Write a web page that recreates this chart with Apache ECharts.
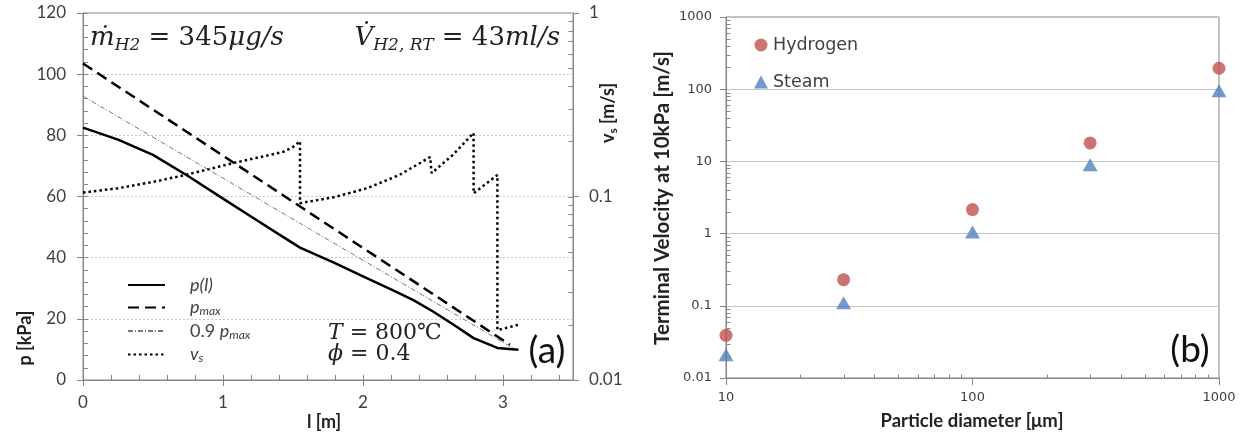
<!DOCTYPE html>
<html>
<head>
<meta charset="utf-8">
<title>Pressure and terminal velocity</title>
<script src="https://cdn.jsdelivr.net/npm/echarts@6.0.0/dist/echarts.min.js"></script>
<style>
  html, body { margin: 0; padding: 0; background: #fff; }
  #main { width: 1246px; height: 436px; }
</style>
</head>
<body>
<div id="main"></div>
<script>
// (a) pressure along the bed [l in m, p in kPa]
const pressure = [[0, 82.5], [0.25, 78.6], [0.5, 73.6], [0.75, 66.7], [1.0, 59.3], [1.25, 52.0], [1.4, 47.6], [1.55, 43.3],
  [1.8, 38.2], [2.0, 33.9], [2.2, 29.6], [2.36, 26.1], [2.5, 22.4], [2.65, 18.0], [2.79, 13.7], [2.96, 10.5], [3.11, 9.9]];
const pressureMax = [[0, 103.5], [3.05, 11.5]];
const pressure90 = [[0, 92.8], [3.08, 10.2]];
// (a) gas velocity v_s [m/s], log axis
const velocity = [[0, 0.105], [0.25, 0.111], [0.5, 0.12], [0.73, 0.131], [0.9, 0.141], [1.07, 0.152], [1.25, 0.163],
  [1.43, 0.175], [1.5, 0.186], [1.55, 0.2],
  [1.55, 0.092], [1.79, 0.099], [2.03, 0.111], [2.26, 0.131], [2.48, 0.164],
  [2.49, 0.134], [2.64, 0.168], [2.79, 0.222],
  [2.79, 0.104], [2.96, 0.131],
  [2.96, 0.0187], [3.11, 0.02]];

// (b) terminal velocity at 10 kPa
const diameter = [10, 30, 100, 300, 1000];
const hydrogen = [0.039, 0.23, 2.15, 18, 195];
const steam = [0.021, 0.11, 1.05, 9, 95];

const axisColor = '#868686';
const labelColor = '#404040';
const textColor = '#222';

// minor ticks of the log axes (2..9 of every decade)
function logMinor(from, to) {
  const out = [];
  for (let d = from; d < to; d *= 10) {
    for (let k = 2; k <= 9; k++) out.push(+(k * d).toPrecision(3));
  }
  return out;
}
const aRightMinor = logMinor(0.01, 1).concat([0.1]);
const bXMinor = logMinor(10, 1000);
const bYMinor = logMinor(0.01, 1000);

function logLabel(v) {
  return String(+(+v).toPrecision(3));
}

function tickSeries(xi, yi, data, dx, dy) {
  return {
    type: 'custom', xAxisIndex: xi, yAxisIndex: yi, silent: true, clip: false, z: 5,
    data: data,
    renderItem: function (params, api) {
      const p = api.coord([api.value(0), api.value(1)]);
      const y = Math.round(p[1]) + 0.5, x = Math.round(p[0]) + 0.5;
      return {
        type: 'line',
        shape: { x1: x, y1: y, x2: x + dx, y2: y + dy },
        style: { stroke: axisColor, lineWidth: 1 }
      };
    }
  };
}

const legendRich = {
  'p(l)': '{i|p(l)}',
  'p_max': '{i|p}{s|max}',
  '0.9 p_max': '{n|0.9 }{i|p}{s|max}',
  'v_s': '{i|v}{s|s}'
};

const chart = echarts.init(document.getElementById('main'));

chart.setOption({
  animation: false,
  backgroundColor: '#fff',
  grid: [
    { left: 83, top: 13, width: 490, height: 367, show: true, borderColor: axisColor, borderWidth: 1 },
    { left: 726, top: 17, width: 493, height: 361, show: true, borderColor: axisColor, borderWidth: 1 }
  ],
  legend: [
    {
      data: ['p(l)', 'p_max', '0.9 p_max', 'v_s'],
      orient: 'vertical', left: 122, top: 271,
      itemWidth: 37, itemHeight: 14, itemGap: 4.5,
      itemStyle: { opacity: 0 },
      formatter: function (name) { return legendRich[name]; },
      textStyle: {
        color: labelColor, padding: [0, 0, 0, 20],
        rich: {
          i: { fontFamily: 'Lato', fontStyle: 'italic', fontSize: 18, lineHeight: 20, color: labelColor },
          n: { fontFamily: 'Lato', fontSize: 18, lineHeight: 20, color: labelColor },
          s: { fontFamily: 'Lato', fontStyle: 'italic', fontSize: 12, lineHeight: 20, verticalAlign: 'bottom', color: labelColor }
        }
      }
    },
    {
      data: ['Hydrogen', 'Steam'],
      orient: 'vertical', left: 749, top: 30,
      itemWidth: 14, itemHeight: 13, itemGap: 17,
      textStyle: { color: labelColor, fontFamily: 'DejaVu Sans', fontSize: 17.5, lineHeight: 20 }
    }
  ],
  xAxis: [
    {
      gridIndex: 0, type: 'value', min: 0, max: 3.5, interval: 1, position: 'bottom',
      axisLine: { onZero: false, lineStyle: { color: axisColor } },
      axisTick: { length: 6, lineStyle: { color: axisColor } },
      axisLabel: { margin: 14, fontSize: 17, fontFamily: 'Lato', color: labelColor, showMaxLabel: false },
      splitLine: { show: false }
    },
    {
      gridIndex: 0, type: 'value', min: 0, max: 3.5, interval: 0.2, position: 'bottom',
      axisLine: { show: false },
      axisTick: { inside: true, length: 5, lineStyle: { color: axisColor } },
      axisLabel: { show: false },
      splitLine: { show: false }
    },
    {
      gridIndex: 1, type: 'log', logBase: 10, min: 10, max: 1000, position: 'bottom',
      axisLine: { onZero: false, lineStyle: { color: axisColor } },
      axisTick: { length: 7, lineStyle: { color: axisColor } },
      axisLabel: { margin: 13, fontSize: 13, fontFamily: 'DejaVu Sans', color: labelColor, formatter: logLabel },
      splitLine: { show: false }
    }
  ],
  yAxis: [
    {
      gridIndex: 0, type: 'value', min: 0, max: 120, interval: 20, position: 'left',
      axisLine: { show: true, onZero: false, lineStyle: { color: axisColor } },
      axisTick: { show: true, length: 6, lineStyle: { color: axisColor } },
      axisLabel: { margin: 17, fontSize: 17, fontFamily: 'Lato', color: labelColor },
      splitLine: { show: true, lineStyle: { color: '#c4c4c4', type: [2, 2] } }
    },
    {
      gridIndex: 0, type: 'value', min: 0, max: 120, interval: 4, position: 'left',
      axisLine: { show: false },
      axisTick: { show: true, inside: true, length: 5, lineStyle: { color: axisColor } },
      axisLabel: { show: false },
      splitLine: { show: false }
    },
    {
      gridIndex: 0, type: 'log', logBase: 10, min: 0.01, max: 1, position: 'right',
      axisLine: { show: true, onZero: false, lineStyle: { color: axisColor } },
      axisTick: { show: true, length: 6, lineStyle: { color: axisColor } },
      axisLabel: { margin: 16, fontSize: 17, fontFamily: 'Lato', color: labelColor, formatter: logLabel },
      splitLine: { show: false }
    },
    {
      gridIndex: 1, type: 'log', logBase: 10, min: 0.01, max: 1000, position: 'left',
      axisLine: { show: true, onZero: false, lineStyle: { color: axisColor } },
      axisTick: { show: true, length: 6, lineStyle: { color: axisColor } },
      axisLabel: { margin: 14, fontSize: 13, fontFamily: 'DejaVu Sans', color: labelColor, formatter: logLabel },
      splitLine: { show: true, lineStyle: { color: '#c4c4c4', width: 1 } }
    }
  ],
  series: [
    {
      name: 'p(l)', type: 'line', xAxisIndex: 0, yAxisIndex: 0, data: pressure, symbol: 'none',
      itemStyle: { color: '#000' }, lineStyle: { color: '#000', width: 2.5 }
    },
    {
      name: 'p_max', type: 'line', xAxisIndex: 0, yAxisIndex: 0, data: pressureMax, symbol: 'none',
      itemStyle: { color: '#000' }, lineStyle: { color: '#000', width: 2.5, type: [11, 6] }
    },
    {
      name: '0.9 p_max', type: 'line', xAxisIndex: 0, yAxisIndex: 0, data: pressure90, symbol: 'none',
      itemStyle: { color: '#777' }, lineStyle: { color: '#777', width: 1, type: [5, 2, 1, 2] }
    },
    {
      name: 'v_s', type: 'line', xAxisIndex: 0, yAxisIndex: 2, data: velocity, symbol: 'none',
      itemStyle: { color: '#000' }, lineStyle: { color: '#000', width: 2.5, type: [2.5, 3] }
    },
    {
      name: 'Hydrogen', type: 'scatter', xAxisIndex: 2, yAxisIndex: 3,
      data: diameter.map((d, i) => [d, hydrogen[i]]),
      symbol: 'circle', symbolSize: 13, itemStyle: { color: '#C0504D' }
    },
    {
      name: 'Steam', type: 'scatter', xAxisIndex: 2, yAxisIndex: 3,
      data: diameter.map((d, i) => [d, steam[i]]),
      symbol: 'triangle', symbolSize: [15, 13], itemStyle: { color: '#4F81BD' }
    },
    tickSeries(0, 2, aRightMinor.map(v => [3.5, v]), -5, 0),
    tickSeries(2, 3, bXMinor.map(v => [v, 0.01]), 0, -4),
    tickSeries(2, 3, bYMinor.map(v => [10, v]), 4, 0)
  ],
  graphic: [
    {
      type: 'text', x: 90, y: 38,
      style: {
        text: '{i|ṁ}{s|H2}{n| = 345}{i|μg/s}', textAlign: 'left', align: 'left', textVerticalAlign: 'middle', verticalAlign: 'middle',
        rich: {
          i: { fontFamily: 'DejaVu Serif', fontStyle: 'italic', fontSize: 26, lineHeight: 32, fill: textColor },
          n: { fontFamily: 'DejaVu Serif', fontSize: 26, lineHeight: 32, fill: textColor },
          s: { fontFamily: 'DejaVu Serif', fontStyle: 'italic', fontSize: 17, lineHeight: 32, verticalAlign: 'bottom', fill: textColor }
        }
      }
    },
    {
      type: 'text', x: 560, y: 38,
      style: {
        text: '{i|V̇}{s|H2, RT}{n| = 43}{i|ml/s}', textAlign: 'right', align: 'right', textVerticalAlign: 'middle', verticalAlign: 'middle',
        rich: {
          i: { fontFamily: 'DejaVu Serif', fontStyle: 'italic', fontSize: 26, lineHeight: 32, fill: textColor },
          n: { fontFamily: 'DejaVu Serif', fontSize: 26, lineHeight: 32, fill: textColor },
          s: { fontFamily: 'DejaVu Serif', fontStyle: 'italic', fontSize: 17, lineHeight: 32, verticalAlign: 'bottom', fill: textColor }
        }
      }
    },
    {
      type: 'text', x: 328, y: 333,
      style: {
        text: '{i|T}{n| = 800℃}', textAlign: 'left', align: 'left', textVerticalAlign: 'middle', verticalAlign: 'middle',
        rich: {
          i: { fontFamily: 'DejaVu Serif', fontStyle: 'italic', fontSize: 22, fill: textColor },
          n: { fontFamily: 'DejaVu Serif', fontSize: 22, fill: textColor }
        }
      }
    },
    {
      type: 'text', x: 328, y: 354,
      style: {
        text: '{i|ϕ}{n| = 0.4}', textAlign: 'left', align: 'left', textVerticalAlign: 'middle', verticalAlign: 'middle',
        rich: {
          i: { fontFamily: 'DejaVu Serif', fontStyle: 'italic', fontSize: 22, fill: textColor },
          n: { fontFamily: 'DejaVu Serif', fontSize: 22, fill: textColor }
        }
      }
    },
    {
      type: 'text', x: 547, y: 351,
      style: { text: '(a)', fontFamily: 'Lato', fontSize: 37, fill: '#111', textAlign: 'center', align: 'center', textVerticalAlign: 'middle', verticalAlign: 'middle' }
    },
    {
      type: 'text', x: 1190, y: 350,
      style: { text: '(b)', fontFamily: 'Lato', fontSize: 37, fill: '#111', textAlign: 'center', align: 'center', textVerticalAlign: 'middle', verticalAlign: 'middle' }
    },
    {
      type: 'text', x: 25, y: 338, rotation: Math.PI / 2,
      style: { text: 'p [kPa]', fontFamily: 'Lato', fontWeight: 'bold', fontSize: 18, fill: textColor, textAlign: 'center', align: 'center', textVerticalAlign: 'middle', verticalAlign: 'middle' }
    },
    {
      type: 'text', x: 324, y: 422,
      style: { text: 'l [m]', fontFamily: 'Lato', fontWeight: 'bold', fontSize: 18, fill: textColor, textAlign: 'center', align: 'center', textVerticalAlign: 'middle', verticalAlign: 'middle' }
    },
    {
      type: 'text', x: 608, y: 113, rotation: Math.PI / 2,
      style: {
        text: '{b|v}{s|s}{b| [m/s]}', textAlign: 'center', align: 'center', textVerticalAlign: 'middle', verticalAlign: 'middle',
        rich: {
          b: { fontFamily: 'Lato', fontWeight: 'bold', fontSize: 18, lineHeight: 22, fill: textColor },
          s: { fontFamily: 'Lato', fontWeight: 'bold', fontSize: 12, lineHeight: 22, verticalAlign: 'bottom', fill: textColor }
        }
      }
    },
    {
      type: 'text', x: 662, y: 198, rotation: Math.PI / 2,
      style: { text: 'Terminal Velocity at 10kPa [m/s]', fontFamily: 'Lato', fontWeight: 'bold', fontSize: 20.5, fill: textColor, textAlign: 'center', align: 'center', textVerticalAlign: 'middle', verticalAlign: 'middle' }
    },
    {
      type: 'text', x: 972, y: 421,
      style: { text: 'Particle diameter [μm]', fontFamily: 'Lato', fontWeight: 'bold', fontSize: 18.5, fill: textColor, textAlign: 'center', align: 'center', textVerticalAlign: 'middle', verticalAlign: 'middle' }
    }
  ]
});
</script>
</body>
</html>
